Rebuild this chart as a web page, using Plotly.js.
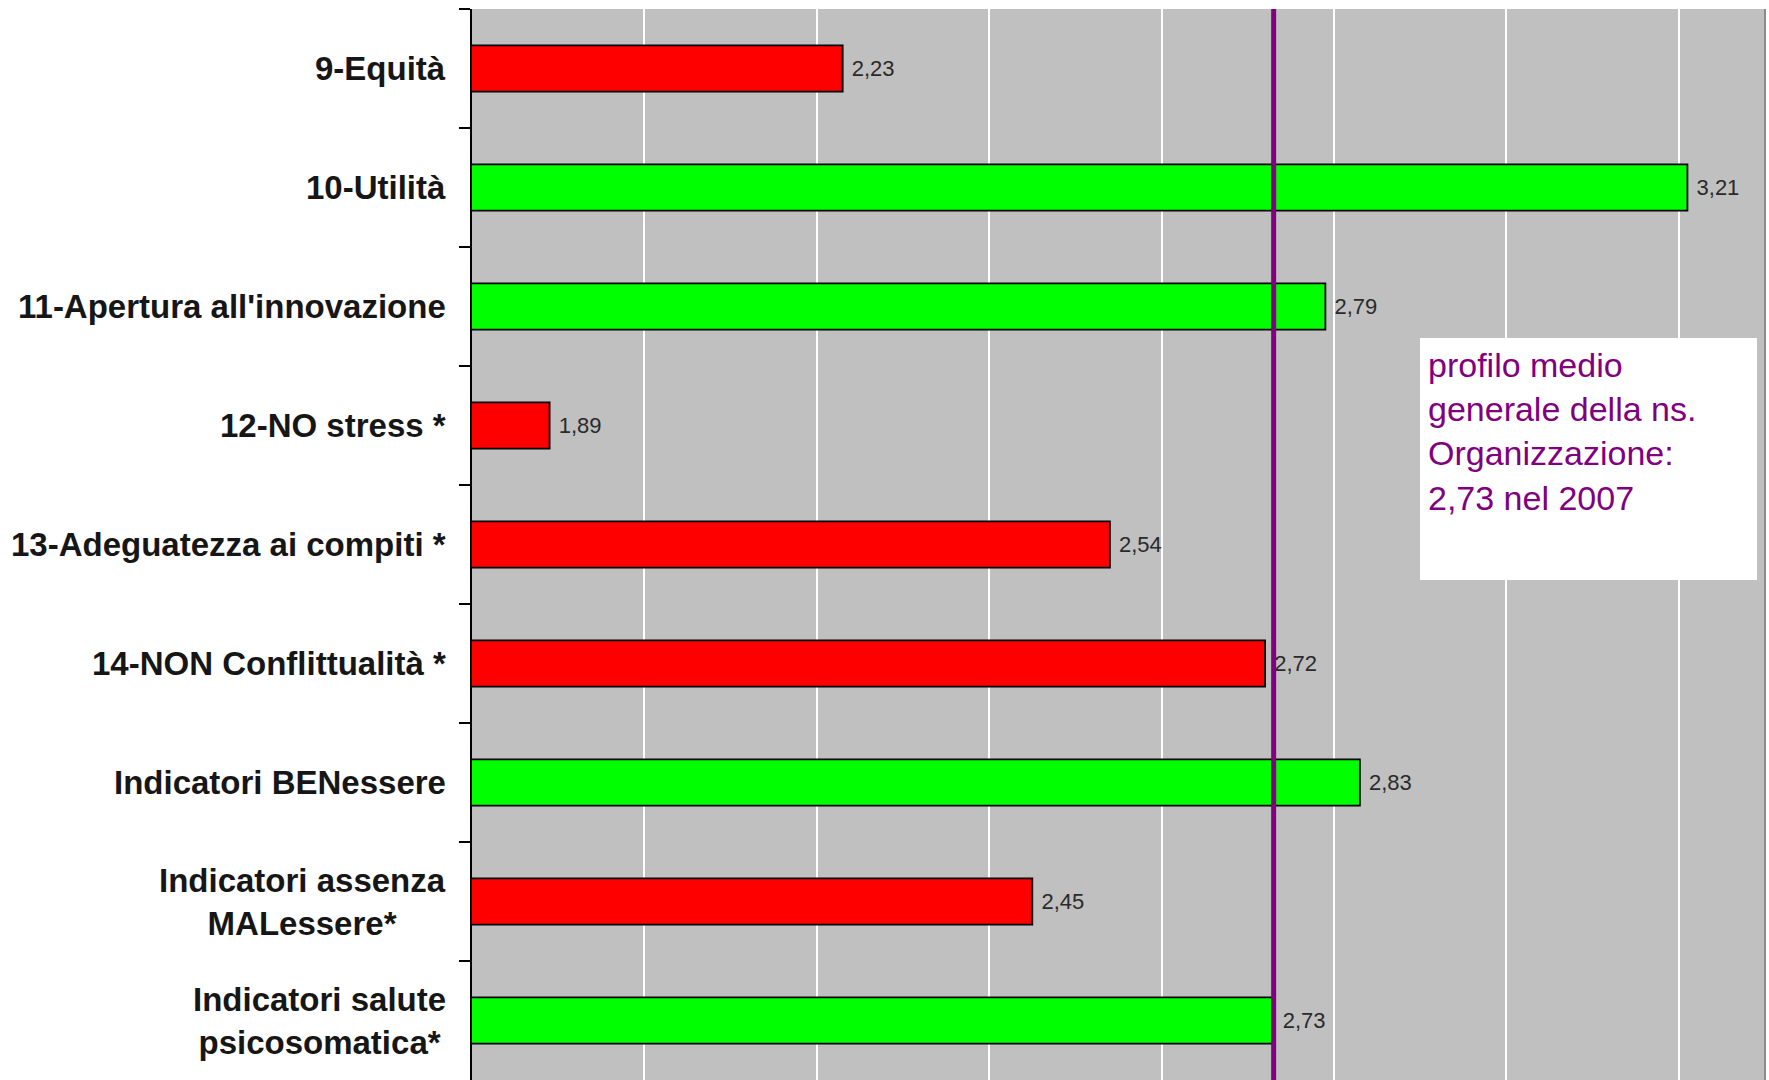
<!DOCTYPE html>
<html>
<head>
<meta charset="utf-8">
<script src="https://cdn.plot.ly/plotly-3.0.1.min.js"></script>
<style>
  html, body { margin: 0; padding: 0; background: #ffffff; }
  #chart { width: 1769px; height: 1080px; }
</style>
</head>
<body>
<div id="chart"></div>
<script>
// Indicatori di benessere organizzativo: punteggi medi per dimensione
const categories = [
  "9-Equità",
  "10-Utilità",
  "11-Apertura all'innovazione",
  "12-NO stress *",
  "13-Adeguatezza ai compiti *",
  "14-NON Conflittualità *",
  "Indicatori BENessere",
  "Indicatori assenza<br>MALessere*",
  "Indicatori salute<br>psicosomatica*"
];
const scores = [2.23, 3.21, 2.79, 1.89, 2.54, 2.72, 2.83, 2.45, 2.73];

// Profilo medio generale dell'organizzazione
const profileValue = 2.73;
const profileText = "profilo medio<br>generale della ns.<br>Organizzazione:<br>2,73 nel 2007";

// Verde se il punteggio raggiunge il profilo medio, rosso altrimenti
const barColors = scores.map(v => (v >= profileValue ? "#00ff00" : "#ff0000"));

const FONT = "Liberation Sans, Arial, Helvetica, sans-serif";

const bars = {
  type: "bar",
  orientation: "h",
  y: categories,
  x: scores,
  width: 0.39,
  marker: { color: barColors, line: { color: "#000000", width: 1.8 } },
  texttemplate: "\u00a0%{x:.2f}",
  textposition: "outside",
  textfont: { family: FONT, size: 22, color: "#2a2a2a" },
  cliponaxis: false,
  hoverinfo: "x+y"
};

// Etichette delle categorie, centrate su più righe
const labelNotes = categories.map(c => ({
  xref: "paper", yref: "y",
  x: 0, y: c,
  xanchor: "right", yanchor: "middle",
  xshift: -24,
  align: "center",
  text: c,
  showarrow: false,
  font: { family: FONT, size: 33, weight: 700, color: "#161616" }
}));

const profileNote = {
  xref: "paper", yref: "paper",
  x: 0.733, y: 0.693,
  xanchor: "left", yanchor: "top",
  width: 321, height: 226,
  align: "left", valign: "top",
  bgcolor: "#ffffff",
  borderpad: 8,
  borderwidth: 0,
  showarrow: false,
  text: profileText,
  font: { family: FONT, size: 34, color: "#800080" }
};

const layout = {
  width: 1769,
  height: 1080,
  margin: { l: 472, r: 4, t: 9, b: 0, pad: 0 },
  paper_bgcolor: "#ffffff",
  plot_bgcolor: "#c0c0c0",
  showlegend: false,
  separators: ",.",
  xaxis: {
    range: [1.8, 3.3],
    tick0: 1.8,
    dtick: 0.2,
    showticklabels: false,
    ticks: "",
    showgrid: true,
    gridcolor: "#ffffff",
    gridwidth: 2,
    zeroline: false,
    showline: false,
    fixedrange: true
  },
  yaxis: {
    type: "category",
    autorange: "reversed",
    showticklabels: false,
    showgrid: false,
    zeroline: false,
    showline: true,
    linecolor: "#000000",
    linewidth: 2,
    ticks: "outside",
    tickson: "boundaries",
    ticklen: 11,
    tickwidth: 1.5,
    tickcolor: "#000000",
    automargin: false,
    fixedrange: true
  },
  shapes: [
    {
      type: "line", layer: "above",
      xref: "x", yref: "paper",
      x0: profileValue, x1: profileValue, y0: 0, y1: 1,
      line: { color: "#800080", width: 5 }
    },
    {
      type: "line", layer: "above",
      xref: "paper", yref: "paper",
      x0: 1, x1: 1, y0: 0, y1: 1,
      line: { color: "#8c8c8c", width: 2 }
    }
  ],
  annotations: labelNotes.concat([profileNote])
};

Plotly.newPlot("chart", [bars], layout, { displayModeBar: false, staticPlot: true });
</script>
</body>
</html>
